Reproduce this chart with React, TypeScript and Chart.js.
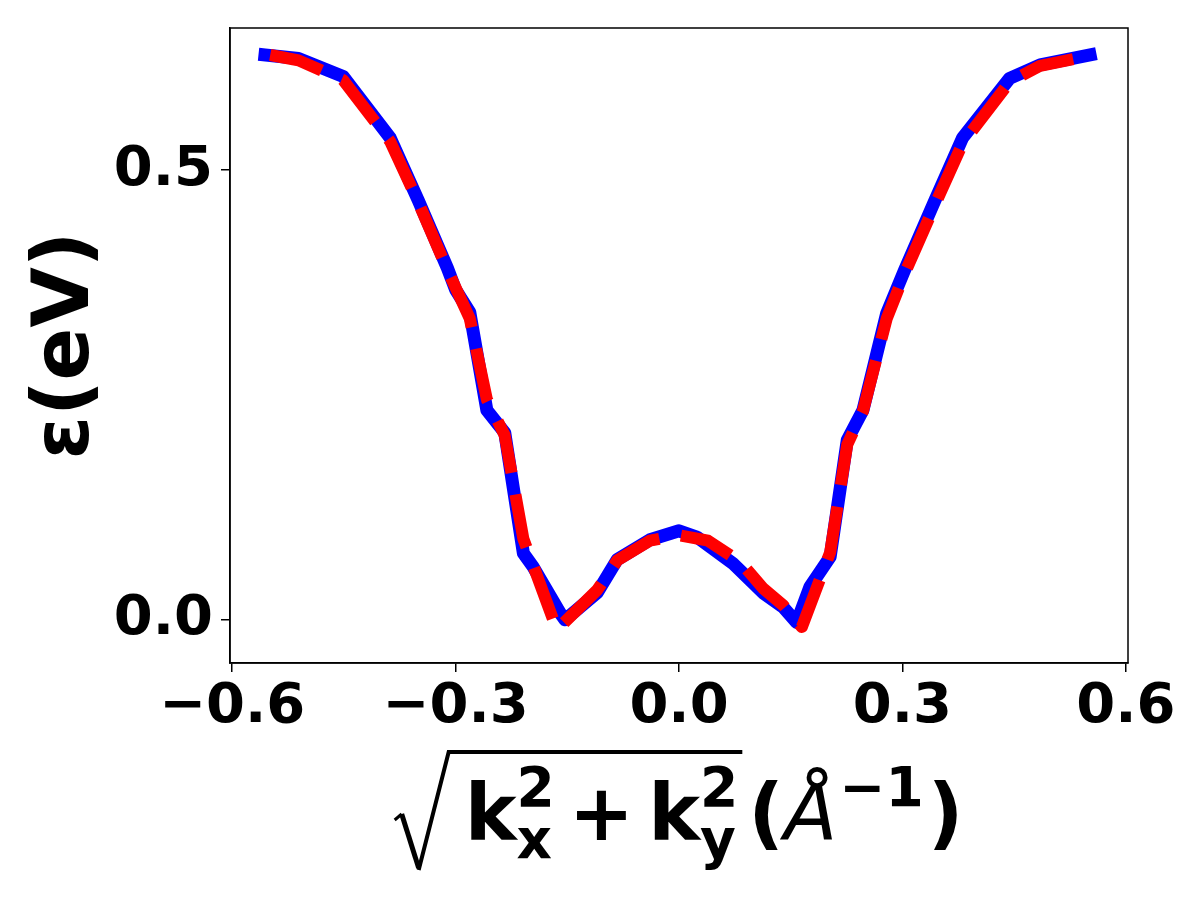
import React, { useEffect, useRef } from "react";
import { Chart, registerables } from "chart.js";

Chart.register(...registerables);

// Blue solid curve (data)
const blueX = [-0.556, -0.511, -0.451, -0.388, -0.350, -0.311, -0.300, -0.281, -0.258, -0.234, -0.209, -0.196, -0.160, -0.153, -0.110, -0.083, -0.039, 0.000, 0.024, 0.072, 0.113, 0.140, 0.158, 0.176, 0.203, 0.226, 0.247, 0.279, 0.303, 0.344, 0.381, 0.444, 0.485, 0.552];
const blueY = [0.628, 0.624, 0.604, 0.536, 0.466, 0.391, 0.367, 0.342, 0.233, 0.208, 0.074, 0.059, 0.008, 0.000, 0.030, 0.067, 0.089, 0.099, 0.092, 0.063, 0.030, 0.014, -0.003, 0.037, 0.070, 0.200, 0.233, 0.341, 0.389, 0.467, 0.536, 0.602, 0.617, 0.628];

// Red dashed curve (model)
const redX = [-0.549, -0.511, -0.451, -0.388, -0.350, -0.311, -0.281, -0.258, -0.234, -0.209, -0.164, -0.110, -0.083, -0.039, 0.000, 0.039, 0.083, 0.113, 0.140, 0.165, 0.203, 0.226, 0.247, 0.279, 0.303, 0.344, 0.381, 0.444, 0.485, 0.545];
const redY = [0.628, 0.622, 0.600, 0.532, 0.464, 0.389, 0.335, 0.245, 0.205, 0.090, -0.011, 0.033, 0.066, 0.088, 0.094, 0.088, 0.064, 0.035, 0.016, -0.008, 0.075, 0.195, 0.232, 0.335, 0.385, 0.462, 0.530, 0.598, 0.616, 0.626];

// Tick values
const xTicks = [-0.6, -0.3, 0.0, 0.3, 0.6];
const yTicks = [0.0, 0.5];

const FONT = '"DejaVu Sans", "Liberation Sans", sans-serif';

function fmt(v: number): string {
  if (Math.abs(v) < 1e-9) return "0.0";
  return v < 0 ? "\u2212" + Math.abs(v).toFixed(1) : v.toFixed(1);
}

function drawXLabel(ctx: CanvasRenderingContext2D, cx: number) {
  const big = `bold 78px ${FONT}`;
  const small = `bold 55px ${FONT}`;
  const ital = `oblique 78px ${FONT}`;
  const base = 840;
  const supBase = 806;
  const subBase = 858;
  const m = (f: string, t: string) => {
    ctx.font = f;
    return ctx.measureText(t).width;
  };
  const wk = m(big, "k");
  const wPlus = m(big, "+");
  const wLP = m(big, "(");
  const wRP = m(big, ")");
  const w2 = m(small, "2");
  const wx = m(small, "x");
  const wy = m(small, "y");
  const wm1 = m(small, "\u22121");
  const wA = m(ital, "\u00C5");
  const radW = 58;
  const g1 = 12;
  const s1 = Math.max(w2, wx);
  const s2 = Math.max(w2, wy);
  const opGap = 14;
  const total =
    radW + g1 + wk + s1 + opGap + wPlus + opGap + wk + s2 + 10 + wLP + wA + 2 + wm1 + 4 + wRP;
  let x = cx - total / 2;
  const rx = x;
  ctx.save();
  ctx.fillStyle = "#000";
  ctx.strokeStyle = "#000";
  ctx.textBaseline = "alphabetic";
  ctx.textAlign = "left";
  x += radW + g1;
  ctx.font = big;
  ctx.fillText("k", x, base);
  x += wk;
  ctx.font = small;
  ctx.fillText("2", x, supBase);
  ctx.fillText("x", x, subBase);
  x += s1 + opGap;
  ctx.font = big;
  ctx.fillText("+", x, base);
  x += wPlus + opGap;
  ctx.fillText("k", x, base);
  x += wk;
  ctx.font = small;
  ctx.fillText("2", x, supBase);
  ctx.fillText("y", x, subBase);
  x += s2 + 4;
  const barEnd = x;
  x += 6;
  // radical sign
  ctx.lineJoin = "miter";
  ctx.lineCap = "butt";
  ctx.lineWidth = 3;
  ctx.beginPath();
  ctx.moveTo(rx, 820);
  ctx.lineTo(rx + 7, 814);
  ctx.stroke();
  ctx.lineWidth = 5;
  ctx.beginPath();
  ctx.moveTo(rx + 7, 814);
  ctx.lineTo(rx + 24, 868);
  ctx.stroke();
  ctx.beginPath();
  ctx.moveTo(rx + 24, 870);
  ctx.lineTo(rx + 54, 752);
  ctx.lineTo(barEnd, 752);
  ctx.lineWidth = 4;
  ctx.stroke();
  ctx.font = big;
  ctx.fillText("(", x, base);
  x += wLP;
  ctx.font = ital;
  ctx.fillText("\u00C5", x, base);
  x += wA + 2;
  ctx.font = small;
  ctx.fillText("\u22121", x, supBase);
  x += wm1 + 4;
  ctx.font = big;
  ctx.fillText(")", x, base);
  ctx.restore();
}

const framePlugin = {
  id: "frameAndLabels",
  afterDraw(chart: any) {
    const { ctx, chartArea } = chart;
    ctx.save();
    ctx.strokeStyle = "#000";
    ctx.lineWidth = 1.5;
    ctx.strokeRect(chartArea.left, chartArea.top, chartArea.right - chartArea.left, chartArea.bottom - chartArea.top);
    // y label
    ctx.translate(68, (chartArea.top + chartArea.bottom) / 2);
    ctx.rotate(-Math.PI / 2);
    ctx.font = `bold 78px ${FONT}`;
    ctx.fillStyle = "#000";
    ctx.textAlign = "center";
    ctx.textBaseline = "middle";
    ctx.fillText("\u03B5(eV)", 0, 0);
    ctx.restore();
    drawXLabel(ctx, (chartArea.left + chartArea.right) / 2);
  },
};

export default function App() {
  const ref = useRef<HTMLCanvasElement | null>(null);
  useEffect(() => {
    if (!ref.current) return;
    const tickFont = { family: FONT, weight: "bold" as const, size: 56 };
    const chart = new Chart(ref.current, {
      type: "line",
      data: {
        datasets: [
          {
            label: "model",
            data: redX.map((x, i) => ({ x, y: redY[i] })),
            borderColor: "#ff0000",
            borderWidth: 12,
            borderDash: [54, 22],
            borderCapStyle: "butt",
            borderJoinStyle: "round",
            pointRadius: 0,
            tension: 0,
            fill: false,
          },
          {
            label: "data",
            data: blueX.map((x, i) => ({ x, y: blueY[i] })),
            borderColor: "#0000ff",
            borderWidth: 13,
            borderCapStyle: "square",
            borderJoinStyle: "round",
            pointRadius: 0,
            tension: 0,
            fill: false,
          },
        ],
      },
      options: {
        responsive: false,
        animation: false,
        devicePixelRatio: 1,
        layout: { padding: { top: 28, right: 72, left: 0, bottom: 0 } },
        plugins: { legend: { display: false }, tooltip: { enabled: false } },
        scales: {
          x: {
            type: "linear",
            min: -0.603,
            max: 0.603,
            afterBuildTicks: (s: any) => {
              s.ticks = xTicks.map((v) => ({ value: v }));
            },
            afterFit: (s: any) => {
              s.height = 237;
              s.paddingLeft = 0;
              s.paddingRight = 0;
            },
            ticks: {
              font: tickFont,
              color: "#000",
              padding: 2,
              maxRotation: 0,
              autoSkip: false,
              callback: (v: any) => fmt(Number(v)),
            },
            grid: { drawOnChartArea: false, drawTicks: true, tickLength: 9, color: "#000", lineWidth: 1.5 },
            border: { display: true, color: "#000", width: 1.5 },
          },
          y: {
            type: "linear",
            min: -0.048,
            max: 0.658,
            afterBuildTicks: (s: any) => {
              s.ticks = yTicks.map((v) => ({ value: v }));
            },
            afterFit: (s: any) => {
              s.width = 230;
              s.paddingTop = 0;
              s.paddingBottom = 0;
            },
            ticks: {
              font: tickFont,
              color: "#000",
              padding: 8,
              autoSkip: false,
              callback: (v: any) => fmt(Number(v)),
            },
            grid: { drawOnChartArea: false, drawTicks: true, tickLength: 9, color: "#000", lineWidth: 1.5 },
            border: { display: true, color: "#000", width: 1.5 },
          },
        },
      },
      plugins: [framePlugin],
    } as any);
    return () => chart.destroy();
  }, []);
  return (
    <div style={{ position: "absolute", left: 0, top: 0, width: 1200, height: 900, background: "#fff" }}>
      <canvas ref={ref} width={1200} height={900} style={{ display: "block", width: 1200, height: 900 }} />
    </div>
  );
}
